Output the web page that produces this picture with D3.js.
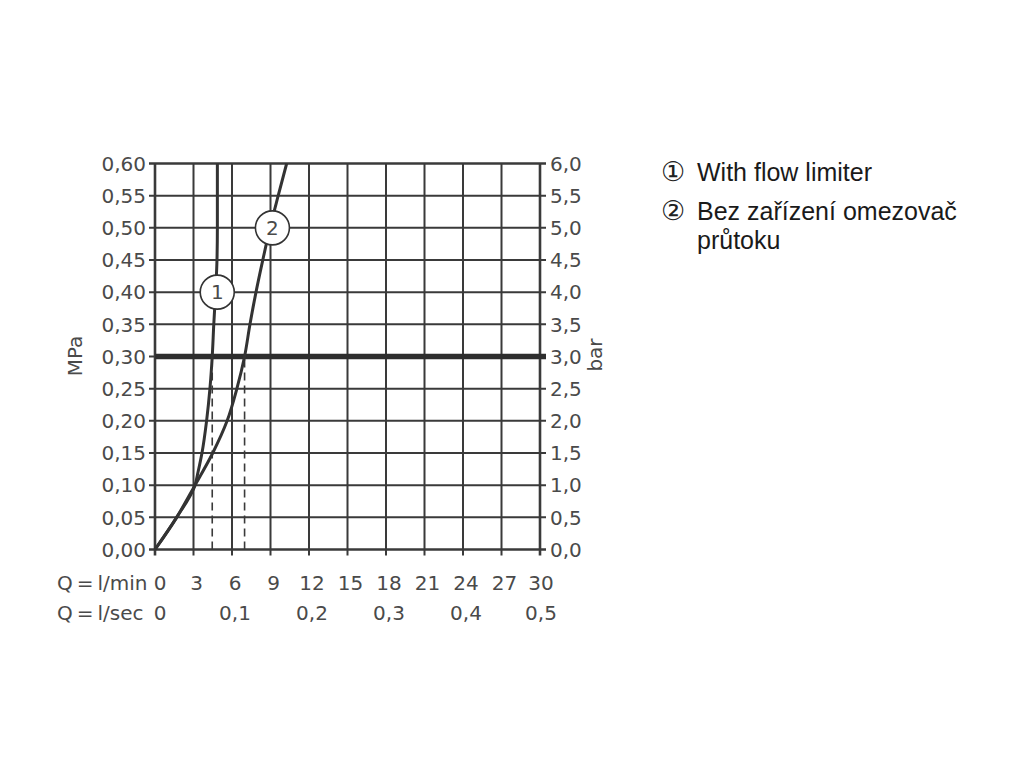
<!DOCTYPE html>
<html>
<head>
<meta charset="utf-8">
<script src="https://cdn.jsdelivr.net/npm/d3@7"></script>
<style>
  html, body { margin: 0; padding: 0; background: #fff; }
  svg { display: block; }
</style>
</head>
<body>
<svg id="chart" width="1024" height="768"></svg>
<script>
// ---- data ----
const mpaTicks = [0, 0.05, 0.10, 0.15, 0.20, 0.25, 0.30, 0.35, 0.40, 0.45, 0.50, 0.55, 0.60];
const barLabels = ["0,0","0,5","1,0","1,5","2,0","2,5","3,0","3,5","4,0","4,5","5,0","5,5","6,0"];
const lminTicks = [0, 3, 6, 9, 12, 15, 18, 21, 24, 27, 30];
const lsecTicks = [0, 0.1, 0.2, 0.3, 0.4, 0.5];
const rowTitles = ["Q\u2009=\u2009l/min", "Q\u2009=\u2009l/sec"];
// series: [flow l/min, pressure MPa]
const flowLimiter = [[0,0],[1.69,0.05],[3.12,0.10],[3.35,0.12],[3.66,0.15],[4.02,0.20],[4.28,0.25],[4.46,0.30],[4.58,0.35],[4.72,0.40],[4.83,0.45],[4.86,0.50],[4.86,0.55],[4.86,0.60]];
const noLimiter = [[0,0],[1.69,0.05],[3.12,0.10],[4.5,0.15],[5.62,0.20],[6.38,0.25],[6.98,0.30],[7.4,0.35],[7.87,0.40],[8.4,0.45],[8.96,0.50],[9.6,0.55],[10.26,0.60]];
const referencePressure = 0.30;
const dropFlows = [4.46, 6.98];
const curveLabels = [{t:"1", q:4.85, p:0.40},{t:"2", q:9.15, p:0.50}];
const legendItems = ["\u2460 With flow limiter", "\u2461 Bez zařízení omezovač", "průtoku"];

// ---- layout ----
const svg = d3.select("#chart");
const L = 155, R = 540, T = 163.5, B = 549.5;
const x = d3.scaleLinear().domain([0, 30]).range([L, R]);
const y = d3.scaleLinear().domain([0, 0.60]).range([B, T]);
const ink = "#3a3a3a";
const textCol = "#4a4a4a";
const tickFont = "'DejaVu Sans', sans-serif";
const fs = 20;
const fmt2 = d => d.toFixed(2).replace(".", ",");
const fmt1 = d => d.toFixed(1).replace(".", ",");

svg.append("rect").attr("width", 1024).attr("height", 768).attr("fill", "#fff");

const g = svg.append("g");

// grid
g.selectAll("line.vg").data(lminTicks).join("line")
  .attr("x1", d => x(d)).attr("x2", d => x(d))
  .attr("y1", T).attr("y2", B + 6)
  .attr("stroke", ink).attr("stroke-width", d => (d === 0 || d === 30) ? 2.6 : 2);
g.selectAll("line.hg").data(mpaTicks).join("line")
  .attr("x1", L - 6).attr("x2", R + 6)
  .attr("y1", d => y(d)).attr("y2", d => y(d))
  .attr("stroke", ink).attr("stroke-width", d => (d === 0 || d === 0.6) ? 2.6 : 2);

// thick reference line
g.append("line")
  .attr("x1", L).attr("x2", R + 6)
  .attr("y1", y(referencePressure)).attr("y2", y(referencePressure))
  .attr("stroke", "#2e2e2e").attr("stroke-width", 5.5);

// dashed drop lines
g.selectAll("line.drop").data(dropFlows).join("line")
  .attr("x1", d => x(d)).attr("x2", d => x(d))
  .attr("y1", y(referencePressure) + 3).attr("y2", B)
  .attr("stroke", ink).attr("stroke-width", 1.6)
  .attr("stroke-dasharray", "8,5");

// curves
const line = d3.line().x(d => x(d[0])).y(d => y(d[1])).curve(d3.curveMonotoneY);
[flowLimiter, noLimiter].forEach(s => {
  g.append("path").attr("d", line(s)).attr("fill", "none")
    .attr("stroke", "#333").attr("stroke-width", 3).attr("stroke-linejoin", "round");
});

// curve labels
const cl = g.selectAll("g.cl").data(curveLabels).join("g")
  .attr("transform", d => `translate(${x(d.q)},${y(d.p)})`);
cl.append("circle").attr("r", 17).attr("fill", "#fff").attr("stroke", "#333").attr("stroke-width", 1.6);
cl.append("text").text(d => d.t).attr("text-anchor", "middle").attr("dy", "0.36em")
  .attr("font-family", tickFont).attr("font-size", 20).attr("fill", textCol);

// left labels
g.selectAll("text.ly").data(mpaTicks).join("text")
  .attr("x", 146).attr("y", d => y(d)).attr("dy", "0.36em")
  .attr("text-anchor", "end").attr("font-family", tickFont).attr("font-size", fs)
  .attr("fill", textCol).text(fmt2);
// right labels
g.selectAll("text.ry").data(mpaTicks).join("text")
  .attr("x", 550).attr("y", d => y(d)).attr("dy", "0.36em")
  .attr("text-anchor", "start").attr("font-family", tickFont).attr("font-size", fs)
  .attr("fill", textCol).text((d, i) => barLabels[i]);

// axis titles
g.append("text").attr("transform", "translate(82,356) rotate(-90)")
  .attr("text-anchor", "middle").attr("font-family", tickFont).attr("font-size", 20)
  .attr("fill", textCol).text("MPa");
g.append("text").attr("transform", "translate(602,355) rotate(-90)")
  .attr("text-anchor", "middle").attr("font-family", tickFont).attr("font-size", 20)
  .attr("fill", textCol).text("bar");

// bottom rows
g.selectAll("text.rt").data(rowTitles).join("text")
  .attr("x", 57).attr("y", (d, i) => 590 + i * 30)
  .attr("font-family", tickFont).attr("font-size", fs)
  .attr("fill", textCol).text(d => d);
g.selectAll("text.bx").data(lminTicks).join("text")
  .attr("x", d => x(d) + (d === 0 ? 5 : d === 30 ? 1 : 3)).attr("y", 590)
  .attr("text-anchor", "middle").attr("font-family", tickFont).attr("font-size", fs)
  .attr("fill", textCol).text(d => d);
g.selectAll("text.bs").data(lsecTicks).join("text")
  .attr("x", d => x(d * 60) + (d === 0 ? 5 : d === 0.5 ? 1 : 3)).attr("y", 620)
  .attr("text-anchor", "middle").attr("font-family", tickFont).attr("font-size", fs)
  .attr("fill", textCol).text(d => d === 0 ? "0" : fmt1(d));

// legend
const legY = [181, 220, 249];
legendItems.forEach((t, i) => {
  const hasSym = i < 2;
  const sym = hasSym ? t.slice(0, 1) : null;
  const rest = hasSym ? t.slice(2) : t;
  if (hasSym) {
    svg.append("text").attr("x", 673).attr("y", legY[i] - 0.5).attr("text-anchor", "middle")
      .attr("font-family", "'DejaVu Sans', sans-serif").attr("font-size", 27)
      .attr("fill", "#222").text(sym);
  }
  svg.append("text").attr("x", 697).attr("y", legY[i])
    .attr("font-family", "'Liberation Sans', Arial, sans-serif").attr("font-size", 25)
    .attr("fill", "#1a1a1a").text(rest);
});
</script>
</body>
</html>
